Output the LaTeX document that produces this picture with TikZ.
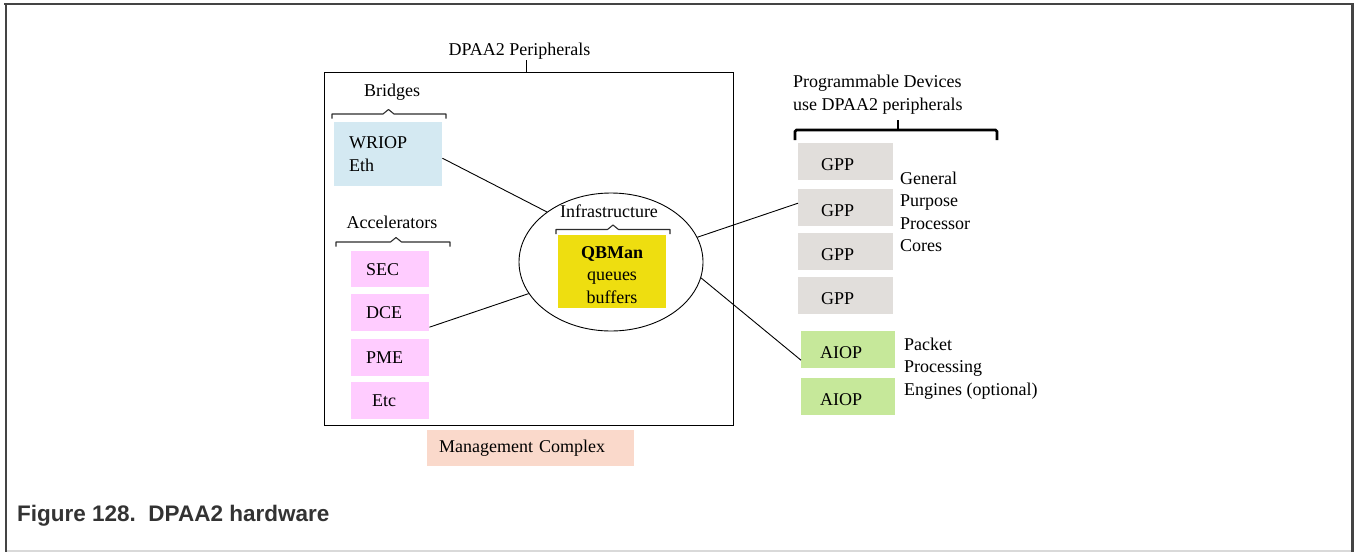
\documentclass[tikz,border=0pt]{standalone}
\usepackage{fontspec}
\setmainfont{Liberation Serif}
\newfontfamily\capfont{Liberation Sans}
\usetikzlibrary{shapes.geometric,calc}

\definecolor{wriopc}{RGB}{212,233,242}
\definecolor{accc}{RGB}{255,204,255}
\definecolor{qbc}{RGB}{238,222,16}
\definecolor{gppc}{RGB}{225,222,219}
\definecolor{aiopc}{RGB}{198,232,154}
\definecolor{mgmtc}{RGB}{250,217,203}
\definecolor{framec}{RGB}{68,68,68}
\definecolor{capc}{RGB}{51,51,51}
\definecolor{bracec}{RGB}{45,45,45}

\newcommand\mybrace[4]{% x1, x2, xtip, y
  \draw[bracec, line width=1.1pt, line join=round]
    (#1,#4+4.5) -- (#1,#4) -- (#3-5.5,#4) -- (#3,#4-4.5) -- (#3+5.5,#4) -- (#2,#4) -- (#2,#4+4.5);
}

\begin{document}
\begin{tikzpicture}[x=1pt,y=-1pt,
  every node/.style={font=\fontsize{18}{22.5}\selectfont},
  blk/.style={inner ysep=0, align=left, anchor=north west},
  low/.style={text height=17pt, text depth=0pt},
  conn/.style={draw=black, line width=0.9pt},
  lbl/.style={inner sep=0}
]
\useasboundingbox (0,0) rectangle (1354,552);

% outer frame
\draw[framec, line width=2.5pt] (4,4.2) -- (1352.7,4.2) -- (1352.7,552);
\draw[framec, line width=2.6pt] (6,3) -- (6,552);
\draw[gray!30, line width=1.5pt] (7.3,551) -- (1351.4,551);

% main peripherals box
\node[draw, line width=1.2pt, minimum width=409, minimum height=353, anchor=north west, inner sep=0] (mainbox) at (324,72) {};
\node[lbl, anchor=base, inner sep=1] (periph) at (519.5,55) {DPAA2 Peripherals};
\draw[conn] ([xshift=-2.5pt]mainbox.north |- periph.south) -- ([xshift=-2.5pt]mainbox.north);

% bridges
\node[lbl, anchor=base] (bridges) at (392,96) {Bridges};
\mybrace{332}{446}{388.5}{114}
\node[blk, fill=wriopc, minimum height=64, text width=78, inner xsep=15] (wriop) at (334,122) {WRIOP\\Eth};

% accelerators
\node[lbl, anchor=base] (accel) at (392,228) {Accelerators};
\mybrace{336}{450}{396}{242}
\node[blk, fill=accc, minimum height=36, text width=48, inner xsep=15] (sec) at (351,251) {SEC};
\node[blk, fill=accc, minimum height=37, text width=48, inner xsep=15] (dce) at (351,294) {DCE};
\node[blk, fill=accc, minimum height=37, text width=48, inner xsep=15] (pme) at (351,339) {PME};
\node[blk, fill=accc, minimum height=37, text width=36, inner xsep=21] (etc) at (351,382) {Etc};

% infrastructure
\node[draw, line width=0.9pt, ellipse, minimum width=184, minimum height=138, inner sep=0] (infra) at (611,262) {};
\node[lbl, anchor=base] (infralbl) at (609,217) {Infrastructure};
\mybrace{556}{670}{613}{229.5}
\node[fill=qbc, minimum width=108, minimum height=73, inner sep=0, anchor=north west] (qbman) at (558,235) {};
\node[lbl, anchor=base, align=center] (qbtext) at (612,303) {\textbf{QBMan}\\queues\\buffers};

% management complex
\node[blk, fill=mgmtc, minimum height=36, text width=183, inner xsep=12] (mgmt) at (427,430) {Management Complex};

% programmable devices
\node[lbl, anchor=base west, align=left] (progdev) at (793,110) {Programmable Devices\\use DPAA2 peripherals};
\draw[black, line width=2.6pt, rounded corners=1.5pt] (795,140) -- (795,130) -- (997,130) -- (997,140);
\draw[black, line width=2.6pt] (898,130) -- (898,120);

\node[blk, low, fill=gppc, minimum height=37, text width=49, inner xsep=23] (gpp1) at (798,143) {GPP};
\node[blk, low, fill=gppc, minimum height=37, text width=49, inner xsep=23] (gpp2) at (798,189) {GPP};
\node[blk, low, fill=gppc, minimum height=37, text width=49, inner xsep=23] (gpp3) at (798,233) {GPP};
\node[blk, low, fill=gppc, minimum height=37, text width=49, inner xsep=23] (gpp4) at (798,277) {GPP};
\node[lbl, anchor=base west, align=left] (gpplbl) at (900,251.5) {General\\Purpose\\Processor\\Cores};

\node[blk, low, fill=aiopc, minimum height=37, text width=56, inner xsep=19] (aiop1) at (801,331) {AIOP};
\node[blk, low, fill=aiopc, minimum height=37, text width=56, inner xsep=19] (aiop2) at (801,378) {AIOP};
\node[lbl, anchor=base west, align=left] (aioplbl) at (904,395) {Packet\\Processing\\Engines (optional)};

% connectors
\draw[conn] ([yshift=-4pt]wriop.east) -- (infra.142);
\draw[conn] ([yshift=-14.5pt]dce.east) -- (infra.201);
\draw[conn] (infra.16) -- ([yshift=4.5pt]gpp2.west);
\draw[conn] (infra.-10) -- ([yshift=-10.5pt]aiop1.west);

% caption
\node[anchor=base west, inner sep=0, text=capc, font=\capfont\bfseries\fontsize{22.5}{26}\selectfont] (caption) at (17,521) {Figure 128.\ \ DPAA2 hardware};
\end{tikzpicture}
\end{document}
